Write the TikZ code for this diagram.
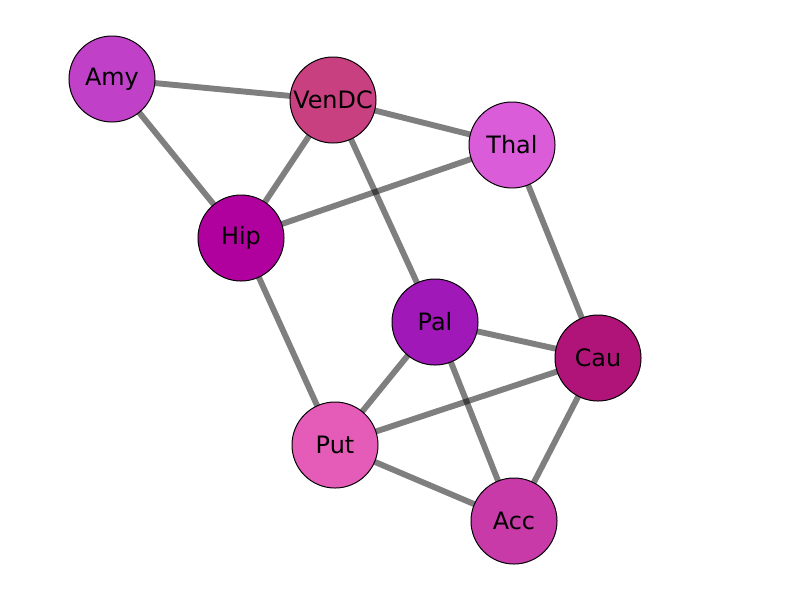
\documentclass[tikz,border=0pt]{standalone}
\usepackage{fontspec}
\setmainfont{DejaVu Sans}

\definecolor{amycol}{HTML}{C040C8}
\definecolor{vendccol}{HTML}{C84080}
\definecolor{thalcol}{HTML}{DA5CD8}
\definecolor{hipcol}{HTML}{B0009E}
\definecolor{palcol}{HTML}{A018B8}
\definecolor{caucol}{HTML}{B01478}
\definecolor{putcol}{HTML}{E45CB8}
\definecolor{acccol}{HTML}{C83AA8}

\begin{document}
\begin{tikzpicture}[x=0.025cm,y=-0.025cm,
  region/.style={circle,draw=black,line width=0.7pt,minimum size=2.15cm,inner sep=0pt,font=\fontsize{17}{20}\selectfont},
  link/.style={draw=black,opacity=0.5,line width=4.2pt}]
  \useasboundingbox (0,0) rectangle (800,600);
  % The regions
  \path (112,79) coordinate (Amy);
  \path (333,100) coordinate (VenDC);
  \path (512,145) coordinate (Thal);
  \path (241,238) coordinate (Hip);
  \path (435,322) coordinate (Pal);
  \path (598,358) coordinate (Cau);
  \path (335,445) coordinate (Put);
  \path (514,521) coordinate (Acc);
  % The links
  \foreach \a/\b in {Amy/VenDC,Amy/Hip,VenDC/Thal,VenDC/Hip,VenDC/Pal,Hip/Thal,Hip/Put,Thal/Cau,Pal/Cau,Pal/Put,Pal/Acc,Cau/Put,Cau/Acc,Put/Acc}
  {
    \draw[link] (\a) -- (\b);
  }
  % The node discs on top
  \node[region,fill=amycol] (amy) at (Amy) {Amy};
  \node[region,fill=vendccol] (vendc) at (VenDC) {VenDC};
  \node[region,fill=thalcol] (thal) at (Thal) {Thal};
  \node[region,fill=hipcol] (hip) at (Hip) {Hip};
  \node[region,fill=palcol] (pal) at (Pal) {Pal};
  \node[region,fill=caucol] (cau) at (Cau) {Cau};
  \node[region,fill=putcol] (put) at (Put) {Put};
  \node[region,fill=acccol] (acc) at (Acc) {Acc};
\end{tikzpicture}
\end{document}
